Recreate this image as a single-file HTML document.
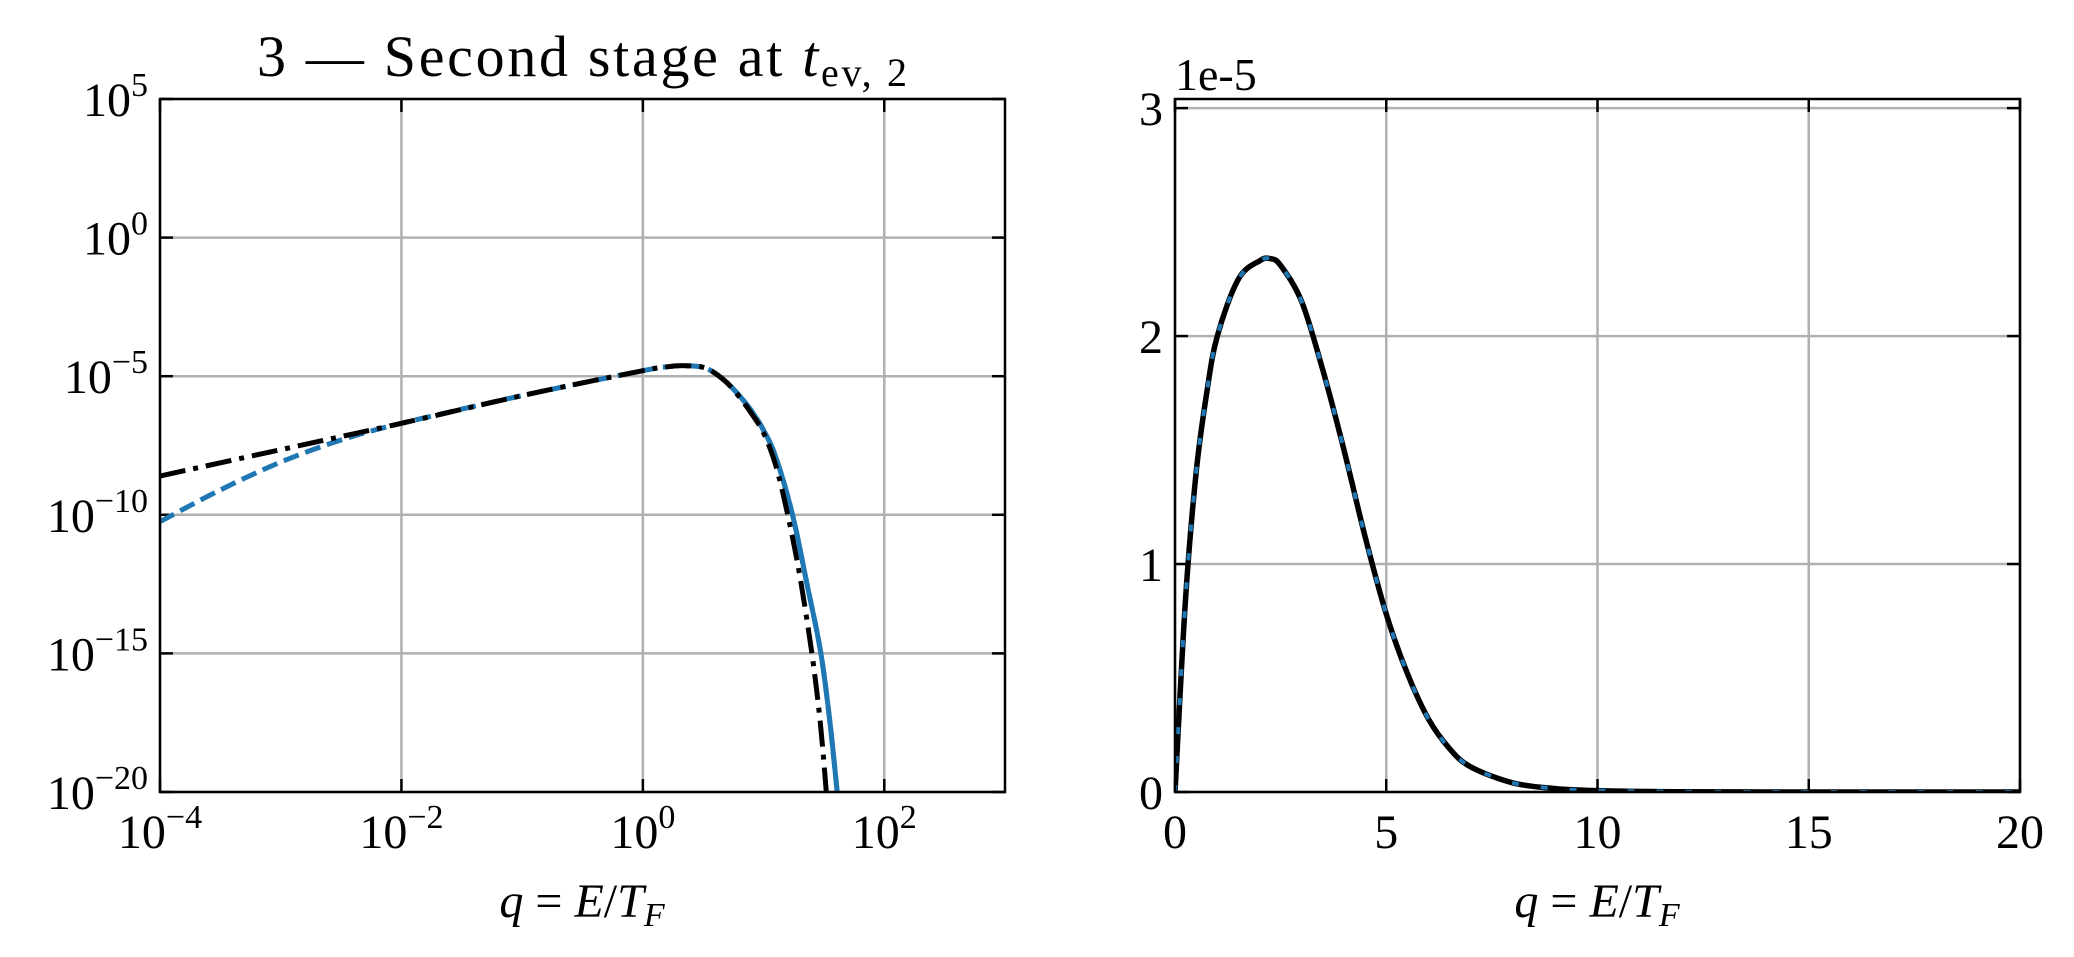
<!DOCTYPE html>
<html><head><meta charset="utf-8"><style>
html,body{margin:0;padding:0;background:#fff;}
svg{display:block;font-family:"Liberation Serif","DejaVu Serif",serif;}
</style></head><body>
<svg id="fig" width="2074" height="957" viewBox="0 0 2074 957" xmlns="http://www.w3.org/2000/svg">
<rect width="2074" height="957" fill="#fff"/>
<g id="left"></g>
<g id="right"></g>
<text x="582" y="76" font-size="58" text-anchor="middle" textLength="650">3 — Second stage at <tspan font-style="italic">t</tspan><tspan font-size="40" dy="10">ev, 2</tspan></text>
<text x="582" y="917" font-size="48" text-anchor="middle"><tspan font-style="italic">q</tspan> = <tspan font-style="italic">E</tspan>/<tspan font-style="italic">T</tspan><tspan font-style="italic" font-size="34" dy="9">F</tspan></text>
<text x="1597" y="917" font-size="48" text-anchor="middle"><tspan font-style="italic">q</tspan> = <tspan font-style="italic">E</tspan>/<tspan font-style="italic">T</tspan><tspan font-style="italic" font-size="34" dy="9">F</tspan></text>
<text x="1175" y="90" font-size="46">1e-5</text>
</svg>
<script>
// Left panel data (log10 q, log10 f)
const leftBlackLogQ = [-4,-3,-2,-1,0,0.2,0.35,0.5,0.6,0.7,0.8,0.9,1.0,1.1,1.2,1.3,1.4,1.47,1.52];
const leftBlackLogF = [-8.6,-7.65,-6.7,-5.7,-4.8,-4.66,-4.62,-4.68,-4.9,-5.25,-5.75,-6.35,-7.05,-8.2,-10,-12.2,-15,-17.5,-20];
const leftBlueLogQ = [-4,-3.5,-3,-2.5,-2,-1,0,0.2,0.35,0.5,0.6,0.7,0.8,0.9,1.0,1.1,1.24,1.36,1.475,1.55,1.61];
const leftBlueLogF = [-10.25,-9.1,-8.1,-7.3,-6.7,-5.7,-4.8,-4.66,-4.62,-4.68,-4.9,-5.25,-5.7,-6.25,-6.95,-7.9,-10,-12.5,-15,-17.5,-20];
const leftXTicks = [-4,-2,0,2];
const leftYTicks = [5,0,-5,-10,-15,-20];
// Right panel data (q, f in units of 1e-5)
const rightQ = [0,0.25,0.5,0.75,1,1.5,2,2.25,2.5,3,3.5,4,4.5,5,5.5,6,6.5,7,8,9,10,12,15,20];
const rightF = [0,0.85,1.4,1.75,2.0,2.25,2.33,2.34,2.31,2.15,1.85,1.5,1.12,0.78,0.52,0.32,0.19,0.11,0.04,0.015,0.006,0.001,0,0];
const rightXTicks = [0,5,10,15,20];
const rightYTicks = [0,1,2,3];

const NS="http://www.w3.org/2000/svg";
function mk(parent,tag,attrs){const e=document.createElementNS(NS,tag);for(const k in attrs)e.setAttribute(k,attrs[k]);parent.appendChild(e);return e;}

const L={x0:160,x1:1005,y0:99,y1:792,xmin:-4,xmax:3,ymin:-20,ymax:5};
const R={x0:1175,x1:2020,y0:99,y1:792,xmin:0,xmax:20,ymin:0,ymax:3.04};
function sx(P,v){return P.x0+(v-P.xmin)/(P.xmax-P.xmin)*(P.x1-P.x0);}
function sy(P,v){return P.y1-(v-P.ymin)/(P.ymax-P.ymin)*(P.y1-P.y0);}

function frame(g,P,xt,yt,xlab,ylab){
  const clipId='clip'+P.x0;
  const cp=mk(g,'clipPath',{id:clipId});mk(cp,'rect',{x:P.x0,y:P.y0,width:P.x1-P.x0,height:P.y1-P.y0});
  xt.forEach(v=>{const x=sx(P,v);
    const gl=mk(g,'line',{x1:x,x2:x,y1:P.y0,y2:P.y1,stroke:'#b0b0b0','stroke-width':2.5});
    
    
  });
  yt.forEach(v=>{const y=sy(P,v);
    const gl=mk(g,'line',{x1:P.x0,x2:P.x1,y1:y,y2:y,stroke:'#b0b0b0','stroke-width':2.5});
    
    
  });
  xt.forEach(v=>{const x=sx(P,v);
    mk(g,'line',{x1:x,x2:x,y1:P.y1,y2:P.y1-13,stroke:'#000','stroke-width':2.5});
    mk(g,'line',{x1:x,x2:x,y1:P.y0,y2:P.y0+13,stroke:'#000','stroke-width':2.5});
    const t=mk(g,'text',{x:x,y:P.y1+56,'font-size':48,'text-anchor':'middle'});
    
    
    xlab(t,v);
  });
  yt.forEach(v=>{const y=sy(P,v);
    mk(g,'line',{x1:P.x0,x2:P.x0+13,y1:y,y2:y,stroke:'#000','stroke-width':2.5});
    mk(g,'line',{x1:P.x1,x2:P.x1-13,y1:y,y2:y,stroke:'#000','stroke-width':2.5});
    const t=mk(g,'text',{x:P.x0-12,y:y+17,'font-size':48,'text-anchor':'end'});
    
    
    ylab(t,v);
  });
  return clipId;
}
function pow10(t,v){t.textContent='10';const s=document.createElementNS(NS,'tspan');s.setAttribute('font-size','34');s.setAttribute('dy','-20');s.textContent=(v<0?'−':'')+Math.abs(v);t.appendChild(s);}
function plain(t,v){t.textContent=String(v);}
function path(g,P,xs,ys,attrs,clip,name){
  const pts=xs.map((x,i)=>[sx(P,x),sy(P,ys[i])]);
  let d='M'+pts[0][0].toFixed(1)+','+pts[0][1].toFixed(1);
  for(let i=0;i<pts.length-1;i++){
    const p0=pts[Math.max(0,i-1)],p1=pts[i],p2=pts[i+1],p3=pts[Math.min(pts.length-1,i+2)];
    const c1x=p1[0]+(p2[0]-p0[0])/6,c1y=p1[1]+(p2[1]-p0[1])/6;
    const c2x=p2[0]-(p3[0]-p1[0])/6,c2y=p2[1]-(p3[1]-p1[1])/6;
    d+='C'+c1x.toFixed(1)+','+c1y.toFixed(1)+' '+c2x.toFixed(1)+','+c2y.toFixed(1)+' '+p2[0].toFixed(1)+','+p2[1].toFixed(1);
  }
  const p=mk(g,'path',Object.assign({d:d,fill:'none','clip-path':'url(#'+clip+')','stroke-linejoin':'round'},attrs));
  
  
}
function spine(g,P){const r=mk(g,'rect',{x:P.x0,y:P.y0,width:P.x1-P.x0,height:P.y1-P.y0,fill:'none',stroke:'#000','stroke-width':2.5});
  
  }

const gl=document.getElementById('left');
const c1=frame(gl,L,leftXTicks,leftYTicks,pow10,pow10);
const tailQ=[],tailF=[];leftBlueLogQ.forEach((q,i)=>{if(q>=0.6){tailQ.push(q);tailF.push(leftBlueLogF[i]);}});
path(gl,L,tailQ,tailF,{stroke:'#1f77b4','stroke-width':5},c1,'numerical-tail-line');
path(gl,L,leftBlueLogQ,leftBlueLogF,{stroke:'#1f77b4','stroke-width':5,'stroke-dasharray':'16,7'},c1,'numerical-dashed-line');
path(gl,L,leftBlackLogQ,leftBlackLogF,{stroke:'#000','stroke-width':5,'stroke-dasharray':'26,8,5,8'},c1,'analytic-dashdot-line');
spine(gl,L);

const gr=document.getElementById('right');
const c2=frame(gr,R,rightXTicks,rightYTicks,plain,plain);
path(gr,R,rightQ,rightF,{stroke:'#000','stroke-width':5.5},c2,'analytic-line');
path(gr,R,rightQ,rightF,{stroke:'#1f77b4','stroke-width':4,'stroke-dasharray':'7,22'},c2,'numerical-dotted-line');
spine(gr,R);
</script>
</body></html>
